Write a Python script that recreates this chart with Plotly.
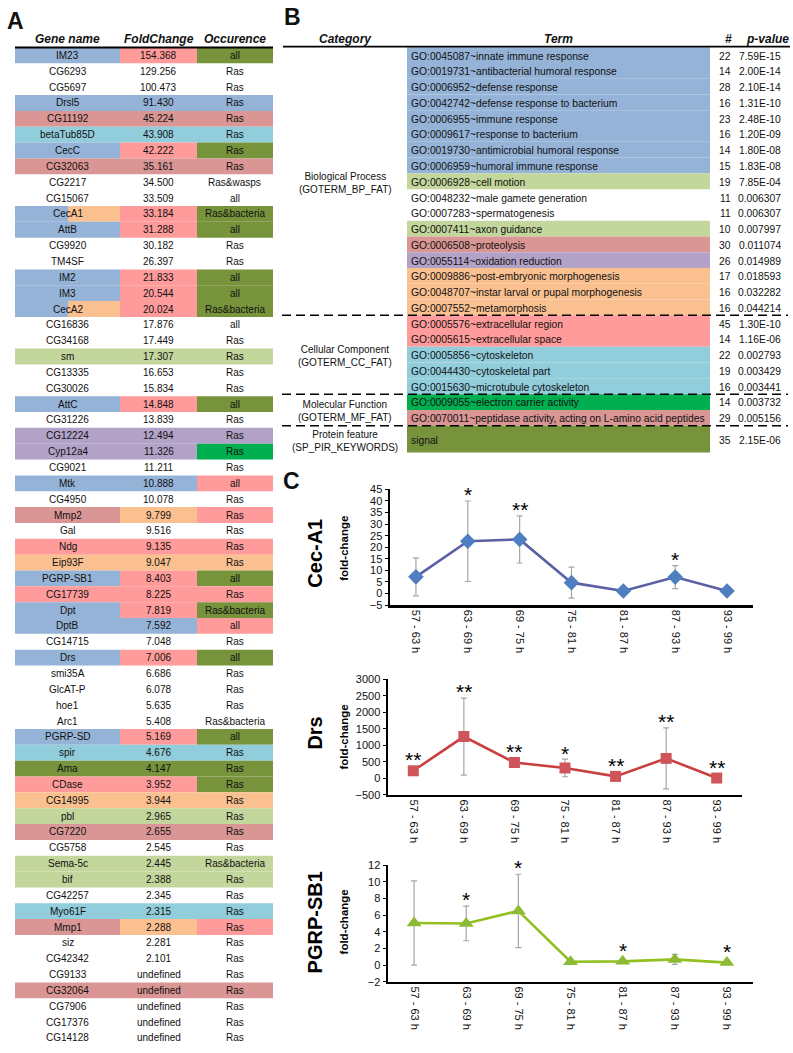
import plotly.graph_objects as go

W, H = 793, 1053
FONT = "Liberation Sans, Arial, sans-serif"

# ---------------- Panel A data ----------------
gene_names = ["IM23", "CG6293", "CG5697", "Drsl5", "CG11192", "betaTub85D", "CecC", "CG32063", "CG2217", "CG15067",
              "CecA1", "AttB", "CG9920", "TM4SF", "IM2", "IM3", "CecA2", "CG16836", "CG34168", "sm",
              "CG13335", "CG30026", "AttC", "CG31226", "CG12224", "Cyp12a4", "CG9021", "Mtk", "CG4950", "Mmp2",
              "Gal", "Ndg", "Eip93F", "PGRP-SB1", "CG17739", "Dpt", "DptB", "CG14715", "Drs", "smi35A",
              "GlcAT-P", "hoe1", "Arc1", "PGRP-SD", "spir", "Ama", "CDase", "CG14995", "pbl", "CG7220",
              "CG5758", "Sema-5c", "bif", "CG42257", "Myo61F", "Mmp1", "siz", "CG42342", "CG9133", "CG32064",
              "CG7906", "CG17376", "CG14128"]
fold_changes = ["154.368", "129.256", "100.473", "91.430", "45.224", "43.908", "42.222", "35.161", "34.500", "33.509",
                "33.184", "31.288", "30.182", "26.397", "21.833", "20.544", "20.024", "17.876", "17.449", "17.307",
                "16.653", "15.834", "14.848", "13.839", "12.494", "11.326", "11.211", "10.888", "10.078", "9.799",
                "9.516", "9.135", "9.047", "8.403", "8.225", "7.819", "7.592", "7.048", "7.006", "6.686",
                "6.078", "5.635", "5.408", "5.169", "4.676", "4.147", "3.952", "3.944", "2.965", "2.655",
                "2.545", "2.445", "2.388", "2.345", "2.315", "2.288", "2.281", "2.101", "undefined", "undefined",
                "undefined", "undefined", "undefined"]
occurrences = ["all", "Ras", "Ras", "Ras", "Ras", "Ras", "Ras", "Ras", "Ras&wasps", "all",
               "Ras&bacteria", "all", "Ras", "Ras", "all", "all", "Ras&bacteria", "all", "Ras", "Ras",
               "Ras", "Ras", "all", "Ras", "Ras", "Ras", "Ras", "all", "Ras", "Ras",
               "Ras", "Ras", "Ras", "all", "Ras", "Ras&bacteria", "all", "Ras", "all", "Ras",
               "Ras", "Ras", "Ras&bacteria", "all", "Ras", "Ras", "Ras", "Ras", "Ras", "Ras",
               "Ras", "Ras&bacteria", "Ras", "Ras", "Ras", "Ras", "Ras", "Ras", "Ras", "Ras",
               "Ras", "Ras", "Ras"]
gene_cell_colors = ["B", "", "", "B", "R", "C", "B", "R", "", "",
                    "B|Y", "B", "", "", "B", "B", "B|Y", "", "", "L",
                    "", "", "B", "", "V", "V", "", "B", "", "R",
                    "", "P", "Y", "B", "P", "B", "B", "", "B", "",
                    "", "", "", "B", "C", "O", "P", "Y", "L", "R",
                    "", "L", "L", "", "C", "R", "", "", "", "R",
                    "", "", ""]
fold_cell_colors = ["P", "", "", "B", "R", "C", "P", "R", "", "",
                    "P", "P", "", "", "P", "P", "P", "", "", "L",
                    "", "", "P", "", "V", "V", "", "B", "", "Y",
                    "", "P", "Y", "P", "P", "P", "B", "", "P", "",
                    "", "", "", "P", "C", "O", "P", "Y", "L", "R",
                    "", "L", "L", "", "C", "Y", "", "", "", "R",
                    "", "", ""]
occ_cell_colors = ["O", "", "", "B", "R", "C", "O", "R", "", "",
                   "O", "O", "", "", "O", "O", "O", "", "", "L",
                   "", "", "O", "", "V", "G", "", "P", "", "P",
                   "", "P", "Y", "O", "P", "O", "P", "", "O", "",
                   "", "", "", "O", "C", "O", "O", "Y", "L", "R",
                   "", "L", "L", "", "C", "P", "", "", "", "R",
                   "", "", ""]
table_a_headers = ["Gene name", "FoldChange", "Occurence"]

# ---------------- Panel B data ----------------
go_terms = ["GO:0045087~innate immune response", "GO:0019731~antibacterial humoral response",
            "GO:0006952~defense response", "GO:0042742~defense response to bacterium",
            "GO:0006955~immune response", "GO:0009617~response to bacterium",
            "GO:0019730~antimicrobial humoral response", "GO:0006959~humoral immune response",
            "GO:0006928~cell motion", "GO:0048232~male gamete generation",
            "GO:0007283~spermatogenesis", "GO:0007411~axon guidance",
            "GO:0006508~proteolysis", "GO:0055114~oxidation reduction",
            "GO:0009886~post-embryonic morphogenesis", "GO:0048707~instar larval or pupal morphogenesis",
            "GO:0007552~metamorphosis", "GO:0005576~extracellular region",
            "GO:0005615~extracellular space", "GO:0005856~cytoskeleton",
            "GO:0044430~cytoskeletal part", "GO:0015630~microtubule cytoskeleton",
            "GO:0009055~electron carrier activity",
            "GO:0070011~peptidase activity, acting on L-amino acid peptides", "signal"]
go_counts = [22, 14, 28, 16, 23, 16, 14, 15, 19, 11, 11, 10, 30, 26, 17, 16, 16, 45, 14, 22, 19, 16, 14, 29, 35]
go_pvalues = ["7.59E-15", "2.00E-14", "2.10E-14", "1.31E-10", "2.48E-10", "1.20E-09", "1.80E-08", "1.83E-08",
              "7.85E-04", "0.006307", "0.006307", "0.007997", "0.011074", "0.014989", "0.018593", "0.032282",
              "0.044214", "1.30E-10", "1.16E-06", "0.002793", "0.003429", "0.003441", "0.003732", "0.005156",
              "2.15E-06"]
go_cell_colors = ["B", "B", "B", "B", "B", "B", "B", "B", "L", "", "", "L", "R", "V", "Y", "Y", "Y",
                  "P", "P", "C", "C", "C", "G", "R", "O"]
go_category_names = ["Biological Process<br>(GOTERM_BP_FAT)", "Cellular Component<br>(GOTERM_CC_FAT)",
                     "Molecular Function<br>(GOTERM_MF_FAT)", "Protein feature<br>(SP_PIR_KEYWORDS)"]
go_category_sizes = [17, 5, 2, 1]
table_b_headers = ["Category", "Term", "#", "p-value"]

# ---------------- Panel C data ----------------
time_windows = ["57 - 63 h", "63 - 69 h", "69 - 75 h", "75 - 81 h", "81 - 87 h", "87 - 93 h", "93 - 99 h"]
ceca1_mean = [7.2, 22.6, 23.4, 4.7, 1.1, 7.1, 1.1]
ceca1_err = [8.2, 17.4, 10.2, 6.7, 0.8, 5.0, 0.6]
ceca1_sig = ["", "*", "**", "", "", "*", ""]
drs_mean = [230, 1265, 480, 315, 60, 605, 10]
drs_err = [90, 1165, 110, 265, 50, 925, 20]
drs_sig = ["**", "**", "**", "*", "**", "**", "**"]
pgrp_mean = [5.05, 5.0, 6.5, 0.4, 0.45, 0.68, 0.3]
pgrp_err = [5.05, 2.08, 4.4, 0.2, 0.2, 0.6, 0.15]
pgrp_sig = ["", "*", "*", "", "*", "", "*"]

# ---------------- styling ----------------
PALETTE = {"B": "#95B3D7", "P": "#FF9B9B", "O": "#77933C", "R": "#D99694", "C": "#92CDDC",
           "L": "#C3D69B", "V": "#B3A2C7", "Y": "#FAC090", "G": "#00B050"}
TXT = "#111111"


def px(x):
    return x / W


def py(y):
    return 1 - y / H


shapes = []
annotations = []


def rect(x0, x1, y0, y1, color):
    shapes.append(dict(type="rect", xref="paper", yref="paper", x0=px(x0), x1=px(x1), y0=py(y1), y1=py(y0),
                       fillcolor=color, line=dict(width=0), layer="below"))


def hline(x0, x1, y, width=1.8, dash="solid"):
    shapes.append(dict(type="line", xref="paper", yref="paper", x0=px(x0), x1=px(x1), y0=py(y), y1=py(y),
                       line=dict(color="black", width=width, dash=dash)))


def text(x, y, s, size=10, xanchor="center", yanchor="middle", angle=0, color=TXT):
    annotations.append(dict(xref="paper", yref="paper", x=px(x), y=py(y), text=s, showarrow=False,
                            xanchor=xanchor, yanchor=yanchor, textangle=angle,
                            font=dict(family=FONT, size=size, color=color)))


# ---------------- Panel A drawing ----------------
text(5, 15, "<b>A</b>", size=23, xanchor="left")
A_TOP, A_PITCH = 42.0, 16.03
A_COLS = [(15, 120), (120, 197), (197, 273)]
A_SPLIT = 68
for j, h in enumerate(table_a_headers):
    text((A_COLS[j][0] + A_COLS[j][1]) / 2, 33, "<b><i>%s</i></b>" % h, size=12)
for i in range(len(gene_names)):
    y0 = A_TOP + i * A_PITCH
    y1 = y0 + A_PITCH
    for j, codes in enumerate([gene_cell_colors, fold_cell_colors, occ_cell_colors]):
        c = codes[i]
        x0, x1 = A_COLS[j]
        if "|" in c:
            left, right = c.split("|")
            rect(x0, A_SPLIT, y0, y1, PALETTE[left])
            rect(A_SPLIT, x1, y0, y1, PALETTE[right])
        elif c:
            rect(x0, x1, y0, y1, PALETTE[c])
    yc = (y0 + y1) / 2
    for j, val in enumerate([gene_names[i], fold_changes[i], occurrences[i]]):
        text((A_COLS[j][0] + A_COLS[j][1]) / 2, yc, val, size=10)
hline(15, 273, 42)

# ---------------- Panel B drawing ----------------
text(282, 11, "<b>B</b>", size=23, xanchor="left")
B_TOP, B_PITCH, B_TALL = 41.7, 15.95, 1.7
TERM_X0, TERM_X1 = 407, 710
CAT_X, NUM_X, PV_X = 345, 725, 783
text(CAT_X, 33, "<b><i>Category</i></b>", size=12)
text((TERM_X0 + TERM_X1) / 2, 33, "<b><i>Term</i></b>", size=12)
text(728, 33, "<b><i>#</i></b>", size=12)
text(767, 33, "<b><i>p-value</i></b>", size=12)
hline(283, 790, 41)

row_tops = []
y = B_TOP
for i in range(len(go_terms)):
    hgt = B_PITCH * (B_TALL if i == len(go_terms) - 1 else 1)
    row_tops.append((y, y + hgt))
    y += hgt
for i, term in enumerate(go_terms):
    y0, y1 = row_tops[i]
    c = go_cell_colors[i]
    if c:
        rect(TERM_X0, TERM_X1, y0, y1, PALETTE[c])
    yc = (y0 + y1) / 2 + 1
    text(TERM_X0 + 2, yc, term, size=10.3, xanchor="left")
    text(NUM_X, yc, str(go_counts[i]), size=10.3)
    text(PV_X, yc, go_pvalues[i], size=10.3, xanchor="right")

start = 0
for k, (name, n) in enumerate(zip(go_category_names, go_category_sizes)):
    y0 = row_tops[start][0]
    y1 = row_tops[start + n - 1][1]
    text(CAT_X, (y0 + y1) / 2 + 1.5, name, size=10)
    if k < len(go_category_names) - 1:
        hline(282, 788, y1, width=1.5, dash="9px,5px")
    start += n

# ---------------- Panel C drawing ----------------
text(281, 480, "<b>C</b>", size=23, xanchor="left")

charts = [
    dict(label="Cec-A1", mean=ceca1_mean, err=ceca1_err, sig=ceca1_sig, yrange=[-5, 45], dtick=5,
         box=(390, 753, 489, 606), symbol="diamond", msize=12, mcolor="#4F7FC0", lcolor="#5A60A3",
         label_y=554, fc_y=549),
    dict(label="Drs", mean=drs_mean, err=drs_err, sig=drs_sig, yrange=[-500, 3000], dtick=500,
         box=(388, 742, 681, 798), symbol="square", msize=11, mcolor="#D0555A", lcolor="#C8403F",
         label_y=736, fc_y=740),
    dict(label="PGRP-SB1", mean=pgrp_mean, err=pgrp_err, sig=pgrp_sig, yrange=[-2, 12], dtick=2,
         box=(388, 753, 869, 987), symbol="triangle-up", msize=13, mcolor="#8DBA35", lcolor="#93C01F",
         label_y=927, fc_y=927),
]

fig = go.Figure()
layout_axes = {}
for n, ch in enumerate(charts, start=1):
    sfx = "" if n == 1 else str(n)
    x0, x1, y0, y1 = ch["box"]
    fig.add_trace(go.Scatter(
        x=time_windows, y=ch["mean"], xaxis="x" + sfx, yaxis="y" + sfx, mode="lines+markers",
        line=dict(color=ch["lcolor"], width=2.6),
        marker=dict(symbol=ch["symbol"], size=ch["msize"], color=ch["mcolor"]),
        error_y=dict(type="data", array=ch["err"], visible=True, color="#A6A6A6", thickness=1.2, width=3),
        showlegend=False, hoverinfo="skip"))
    layout_axes["xaxis" + sfx] = dict(
        domain=[px(x0), px(x1)], anchor="y" + sfx, type="category", categoryorder="array",
        categoryarray=time_windows, range=[-0.5, len(time_windows) - 0.5], showline=True, linewidth=2.5,
        linecolor="black", ticks="", tickangle=90, showgrid=False, zeroline=False,
        tickfont=dict(family=FONT, size=11, color=TXT), fixedrange=True)
    layout_axes["yaxis" + sfx] = dict(
        domain=[py(y1), py(y0)], anchor="x" + sfx, range=ch["yrange"], dtick=ch["dtick"],
        tick0=ch["yrange"][0], showline=True, linewidth=2.5, linecolor="black", ticks="outside",
        ticklen=3, tickwidth=1, tickcolor="black", showgrid=False, zeroline=False,
        tickfont=dict(family=FONT, size=11, color=TXT), fixedrange=True)
    ppu = (y1 - y0) / (ch["yrange"][1] - ch["yrange"][0])
    for t, m, e, s in zip(time_windows, ch["mean"], ch["err"], ch["sig"]):
        if not s:
            continue
        shift = max(e * ppu + 11, 16) - 5
        annotations.append(dict(xref="x" + sfx, yref="y" + sfx, x=t, y=m, yshift=shift, text=s,
                                showarrow=False, xanchor="center", yanchor="middle",
                                font=dict(family=FONT, size=21, color="black")))
    text(315, ch["label_y"], "<b>%s</b>" % ch["label"], size=20, angle=-90, color="black")
    text(344, ch["fc_y"], "<b>fold-change</b>", size=11.5, angle=-90, color="black")

fig.update_layout(
    width=W, height=H, margin=dict(l=0, r=0, t=0, b=0), paper_bgcolor="white",
    plot_bgcolor="rgba(0,0,0,0)", shapes=shapes, annotations=annotations,
    font=dict(family=FONT, color=TXT), **layout_axes)

fig.write_html("out.html", config={"displayModeBar": False, "staticPlot": True},
               post_script="document.body.style.margin='0';document.body.style.overflow='hidden';")
